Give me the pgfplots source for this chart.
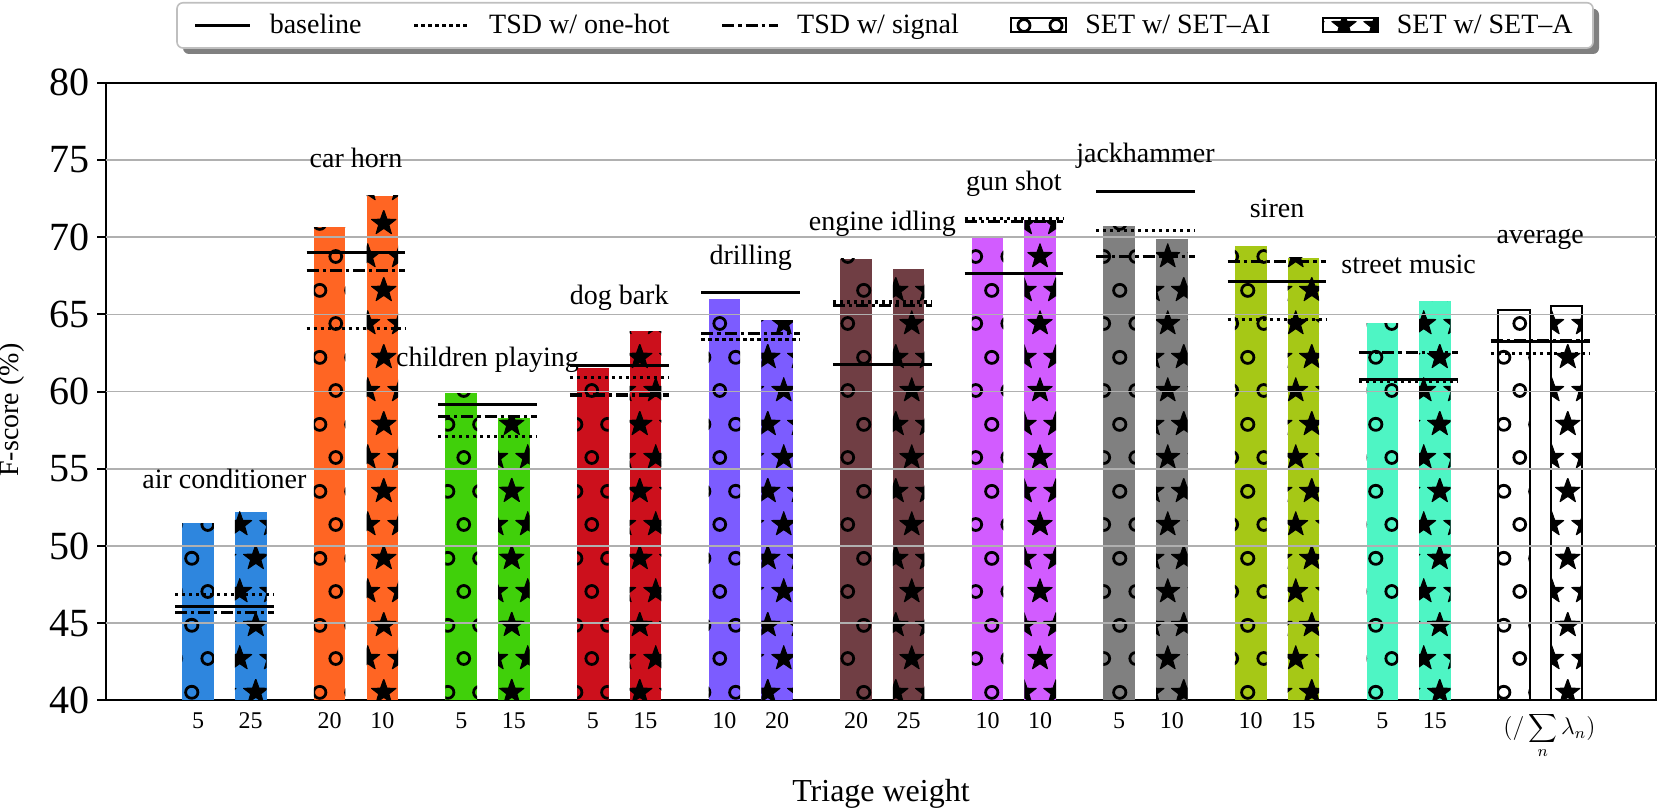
\documentclass[border=0pt]{standalone}
\usepackage{fontspec}
\setmainfont{Liberation Serif}
\usepackage{pgfplots}
\pgfplotsset{compat=1.18}
\usetikzlibrary{patterns.meta,shadows}
\pgfdeclarelayer{background}
\pgfsetlayers{background,main}

\newcommand\starat[2]{\filldraw[line width=0.5pt, line join=round] (#1,#2) +(90:6.4pt) -- +(126:2.6pt) -- +(162:6.4pt) -- +(198:2.6pt) -- +(234:6.4pt) -- +(270:2.6pt) -- +(306:6.4pt) -- +(342:2.6pt) -- +(18:6.4pt) -- +(54:2.6pt) -- cycle;}

\tikzdeclarepattern{
  name=circs, type=uncolored,
  bounding box={(0pt,0pt) and (16pt,33.3pt)},
  tile size={(16pt,33.3pt)},
  code={
    \draw[line width=1.4pt] (8pt,8.3pt) circle[radius=3pt];
    \draw[line width=1.4pt] (0pt,24.95pt) circle[radius=3pt];
    \draw[line width=1.4pt] (16pt,24.95pt) circle[radius=3pt];
  }
}
\tikzdeclarepattern{
  name=stars, type=uncolored,
  bounding box={(0pt,0pt) and (16pt,33.3pt)},
  tile size={(16pt,33.3pt)},
  code={
    \starat{8pt}{8.3pt}
    \starat{0pt}{24.95pt}
    \starat{16pt}{24.95pt}
  }
}

\definecolor{c0}{RGB}{46,134,222}
\definecolor{c1}{RGB}{255,101,35}
\definecolor{c2}{RGB}{64,208,10}
\definecolor{c3}{RGB}{204,16,28}
\definecolor{c4}{RGB}{124,92,255}
\definecolor{c5}{RGB}{112,62,68}
\definecolor{c6}{RGB}{210,92,255}
\definecolor{c7}{RGB}{128,128,128}
\definecolor{c8}{RGB}{166,200,22}
\definecolor{c9}{RGB}{78,245,196}
\definecolor{gridc}{HTML}{B0B0B0}

\tikzset{catlab/.style={font=\fontsize{14}{16}\selectfont, anchor=base, inner sep=0pt}}
\pgfplotsset{
  bars/.style={ybar, bar width=0.24, bar shift=0pt, draw=none, forget plot},
  circ/.style={postaction={pattern=circs, pattern color=black}},
  star/.style={postaction={pattern=stars, pattern color=black}},
  lineleg/.style={legend image code/.code={\draw[##1] (0pt,0pt) -- (27.6pt,0pt);}},
  patchleg/.style={legend image code/.code={\draw[##1] (0pt,-3.5pt) rectangle (27.6pt,3.5pt);}},
}

\begin{document}
\begin{tikzpicture}
\begin{axis}[name=ax,
  scale only axis, width=775pt, height=308.9pt,
  xmin=-0.9, xmax=10.88, ymin=40, ymax=80,
  ytick={40,45,...,80},
  xtick={-0.2,0.2,0.8,1.2,1.8,2.2,2.8,3.2,3.8,4.2,4.8,5.2,5.8,6.2,6.8,7.2,7.8,8.2,8.8,9.2,10.07},
  xticklabels={5,25,20,10,5,15,5,15,10,20,20,25,10,10,5,10,10,15,5,15,{$\displaystyle(/\sum_{n}\lambda_n)$}},
  tick align=outside, major tick length=4.5pt,
  xtick style={draw=none},
  ytick pos=left,
  axis line style={line width=1pt},
  ytick style={line width=1pt, black},
  /pgf/number format/assume math mode=true,
  yticklabel style={font=\fontsize{20}{24}\selectfont},
  xticklabel style={font=\fontsize{12}{14}\selectfont, yshift=2pt},
  every axis y label/.style={at={(rel axis cs:0,0.47)}, xshift=-47pt, rotate=90, anchor=center, font=\fontsize{14}{16}\selectfont},
  ylabel={F-score (\%)},
  every axis x label/.style={at={(rel axis cs:0.5,0)}, anchor=base, yshift=-50.6pt, font=\fontsize{16}{19}\selectfont},
  xlabel={Triage weight},
  legend columns=5,
  legend cell align=left,
  legend style={name=leg, at={(0.5026,1)}, anchor=south, yshift=17.35pt,
    font=\fontsize{14}{16}\selectfont, draw=none, fill=none,
    inner xsep=8pt, inner ysep=3.5pt,
    /tikz/every odd column/.append style={column sep=7pt},
    /tikz/every even column/.append style={column sep=23.6pt}},
]
% legend
\addlegendimage{lineleg, black, line width=1.6pt}
\addlegendentry{baseline}
\addlegendimage{lineleg, black, line width=1.6pt, dash pattern=on 1.6pt off 1.9pt}
\addlegendentry{TSD w/ one-hot}
\addlegendimage{lineleg, black, line width=1.6pt, dash pattern=on 6pt off 2pt on 1.6pt off 2pt}
\addlegendentry{TSD w/ signal}
\addlegendimage{patchleg, draw=black, line width=1pt, fill=white, circ}
\addlegendentry{SET w/ SET--AI}
\addlegendimage{patchleg, draw=black, line width=1pt, fill=white, star}
\addlegendentry{SET w/ SET--A}

% bars: SET w/ SET-AI (circles) and SET w/ SET-A (stars)
\addplot[bars, fill=c0, circ] coordinates {(-0.2,51.47)};
\addplot[bars, fill=c0, star] coordinates {(0.2,52.22)};
\addplot[bars, fill=c1, circ] coordinates {(0.8,70.63)};
\addplot[bars, fill=c1, star] coordinates {(1.2,72.68)};
\addplot[bars, fill=c2, circ] coordinates {(1.8,59.90)};
\addplot[bars, fill=c2, star] coordinates {(2.2,58.28)};
\addplot[bars, fill=c3, circ] coordinates {(2.8,61.51)};
\addplot[bars, fill=c3, star] coordinates {(3.2,63.91)};
\addplot[bars, fill=c4, circ] coordinates {(3.8,65.97)};
\addplot[bars, fill=c4, star] coordinates {(4.2,64.63)};
\addplot[bars, fill=c5, circ] coordinates {(4.8,68.60)};
\addplot[bars, fill=c5, star] coordinates {(5.2,67.95)};
\addplot[bars, fill=c6, circ] coordinates {(5.8,69.92)};
\addplot[bars, fill=c6, star] coordinates {(6.2,71.10)};
\addplot[bars, fill=c7, circ] coordinates {(6.8,70.69)};
\addplot[bars, fill=c7, star] coordinates {(7.2,69.87)};
\addplot[bars, fill=c8, circ] coordinates {(7.8,69.40)};
\addplot[bars, fill=c8, star] coordinates {(8.2,68.65)};
\addplot[bars, fill=c9, circ] coordinates {(8.8,64.42)};
\addplot[bars, fill=c9, star] coordinates {(9.2,65.86)};
\addplot[bars, fill=white, draw=black, line width=1pt, circ] coordinates {(9.8,65.28)};
\addplot[bars, fill=white, draw=black, line width=1pt, star] coordinates {(10.2,65.55)};

% grid lines over the bars
\pgfplotsinvokeforeach{45,50,55,60,65,70,75}{
  \draw[gridc, line width=0.8pt] (axis cs:-0.9,#1) -- (axis cs:10.88,#1);
}

% baseline
\addplot[black, line width=1.6pt, unbounded coords=jump, forget plot] coordinates {
(-0.375,46.10) (0.375,46.10) (0.5,nan)
(0.625,69.03) (1.375,69.03) (1.5,nan)
(1.625,59.14) (2.375,59.14) (2.5,nan)
(2.625,61.71) (3.375,61.71) (3.5,nan)
(3.625,66.43) (4.375,66.43) (4.5,nan)
(4.625,61.73) (5.375,61.73) (5.5,nan)
(5.625,67.67) (6.375,67.67) (6.5,nan)
(6.625,72.96) (7.375,72.96) (7.5,nan)
(7.625,67.15) (8.375,67.15) (8.5,nan)
(8.625,60.78) (9.375,60.78) (9.5,nan)
(9.625,63.23) (10.375,63.23)
};
% TSD w/ one-hot
\addplot[black, line width=1.6pt, dash pattern=on 1.6pt off 1.9pt, unbounded coords=jump, forget plot] coordinates {
(-0.375,46.84) (0.375,46.84) (0.5,nan)
(0.625,64.08) (1.375,64.08) (1.5,nan)
(1.625,57.08) (2.375,57.08) (2.5,nan)
(2.625,60.93) (3.375,60.93) (3.5,nan)
(3.625,63.35) (4.375,63.35) (4.5,nan)
(4.625,65.80) (5.375,65.80) (5.5,nan)
(5.625,71.22) (6.375,71.22) (6.5,nan)
(6.625,70.43) (7.375,70.43) (7.5,nan)
(7.625,64.66) (8.375,64.66) (8.5,nan)
(8.625,60.68) (9.375,60.68) (9.5,nan)
(9.625,62.45) (10.375,62.45)
};
% TSD w/ signal
\addplot[black, line width=1.6pt, dash pattern=on 6pt off 2pt on 1.6pt off 2pt, unbounded coords=jump, forget plot] coordinates {
(-0.375,45.70) (0.375,45.70) (0.5,nan)
(0.625,67.82) (1.375,67.82) (1.5,nan)
(1.625,58.40) (2.375,58.40) (2.5,nan)
(2.625,59.78) (3.375,59.78) (3.5,nan)
(3.625,63.78) (4.375,63.78) (4.5,nan)
(4.625,65.60) (5.375,65.60) (5.5,nan)
(5.625,71.00) (6.375,71.00) (6.5,nan)
(6.625,68.75) (7.375,68.75) (7.5,nan)
(7.625,68.44) (8.375,68.44) (8.5,nan)
(8.625,62.53) (9.375,62.53) (9.5,nan)
(9.625,63.30) (10.375,63.30)
};

% category labels
\node[catlab] at (axis cs:0,53.74) {air conditioner};
\node[catlab] at (axis cs:1,74.52) {car horn};
\node[catlab] at (axis cs:2,61.61) {children playing};
\node[catlab] at (axis cs:3,65.61) {dog bark};
\node[catlab] at (axis cs:4,68.20) {drilling};
\node[catlab] at (axis cs:5,70.46) {engine idling};
\node[catlab] at (axis cs:6,73.05) {gun shot};
\node[catlab] at (axis cs:7,74.82) {jackhammer};
\node[catlab] at (axis cs:8,71.29) {siren};
\node[catlab] at (axis cs:9,67.66) {street music};
\node[catlab] at (axis cs:10,69.60) {average};
\end{axis}
\begin{pgfonlayer}{background}
\draw[draw=black!25, line width=0.8pt, fill=white, rounded corners=3pt,
  drop shadow={shadow xshift=3pt, shadow yshift=-3pt, fill=black!50, opacity=1}]
  (leg.south west) rectangle (leg.north east);
\end{pgfonlayer}
\pgfresetboundingbox
\path ([shift={(-53pt,-53.75pt)}]ax.south west) rectangle ([shift={(3pt,41.35pt)}]ax.north east);
\end{tikzpicture}
\end{document}
